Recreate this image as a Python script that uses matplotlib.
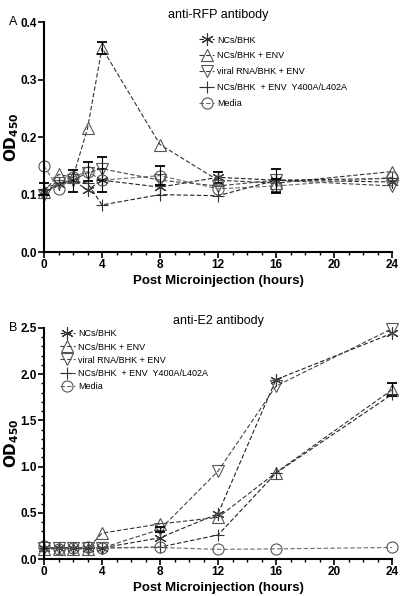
import matplotlib
matplotlib.use("Agg")
import matplotlib.pyplot as plt
from matplotlib.ticker import MultipleLocator

plt.rcParams["font.family"] = ["Liberation Sans", "DejaVu Sans"]

hours = [0, 1, 2, 3, 4, 8, 12, 16, 24]
labels = ["NCs/BHK", "NCs/BHK + ENV", "viral RNA/BHK + ENV",
          "NCs/BHK  + ENV  Y400A/L402A", "Media"]
markers = [(6, 2, 0), "^", "v", "+", "o"]

# panel A - anti-RFP
rfp_ncs = [0.105, 0.118, 0.125, 0.108, 0.125, 0.113, 0.130, 0.125, 0.122]
rfp_ncs_env = [0.105, 0.135, 0.130, 0.215, 0.355, 0.187, 0.125, 0.120, 0.140]
rfp_rna_env = [0.100, 0.120, 0.125, 0.138, 0.145, 0.125, 0.115, 0.125, 0.115]
rfp_mut = [0.110, 0.120, 0.123, 0.120, 0.082, 0.100, 0.098, 0.125, 0.128]
rfp_media = [0.150, 0.110, 0.130, 0.140, 0.125, 0.133, 0.110, 0.115, 0.130]
rfp_err = [
    [0.000, 0.000, 0.000, 0.000, 0.020, 0.000, 0.010, 0.000, 0.000],
    [0.000, 0.000, 0.000, 0.000, 0.010, 0.000, 0.000, 0.000, 0.000],
    [0.000, 0.000, 0.000, 0.000, 0.020, 0.000, 0.000, 0.000, 0.000],
    [0.010, 0.000, 0.019, 0.000, 0.000, 0.000, 0.000, 0.020, 0.000],
    [0.000, 0.000, 0.000, 0.017, 0.000, 0.016, 0.000, 0.012, 0.000],
]

# panel B - anti-E2
e2_ncs = [0.12, 0.12, 0.12, 0.12, 0.12, 0.23, 0.49, 1.94, 2.44]
e2_ncs_env = [0.11, 0.11, 0.11, 0.11, 0.28, 0.38, 0.45, 0.935, 1.83]
e2_rna_env = [0.12, 0.12, 0.12, 0.12, 0.12, 0.32, 0.95, 1.87, 2.49]
e2_mut = [0.12, 0.12, 0.12, 0.12, 0.12, 0.13, 0.26, 0.93, 1.78]
e2_media = [0.14, 0.11, 0.12, 0.13, 0.12, 0.125, 0.105, 0.11, 0.125]
e2_err = [
    [0, 0, 0, 0, 0, 0, 0, 0, 0],
    [0, 0, 0, 0, 0, 0, 0, 0, 0.07],
    [0, 0, 0, 0, 0, 0.03, 0, 0, 0],
    [0, 0, 0, 0, 0, 0, 0, 0, 0],
    [0, 0, 0, 0, 0, 0, 0, 0, 0],
]

line_colors = ["#222222", "#333333", "#444444", "#222222", "#6a6a6a"]
marker_colors = ["#333333", "#555555", "#555555", "#333333", "#555555"]

fig = plt.figure(figsize=(4.0, 5.96), dpi=100)
ax_a = fig.add_axes([0.11, 0.577, 0.87, 0.386])
ax_b = fig.add_axes([0.11, 0.062, 0.87, 0.388])


def draw_panel(ax, series, errs, ylim, ymajor, yminor, title, letter, legend_loc, spacing):
    for vals, err, lab, m, lc, mc in zip(series, errs, labels, markers, line_colors, marker_colors):
        ms = 8 if m == "o" else 9
        ax.plot(hours, vals, color=lc, ls=(0, (4, 2)), lw=0.8,
                marker=m, ms=ms, mfc="none", mec=mc, mew=0.8,
                label=lab, clip_on=False)
        pts = [(h, v, e) for h, v, e in zip(hours, vals, err) if e > 0]
        if pts:
            ax.errorbar([p[0] for p in pts], [p[1] for p in pts], yerr=[p[2] for p in pts],
                        fmt="none", ecolor="black", elinewidth=0.8, capsize=3.5,
                        capthick=1.3, clip_on=False)
    ax.set_xlim(0, 24)
    ax.set_ylim(*ylim)
    ax.xaxis.set_major_locator(MultipleLocator(4))
    ax.xaxis.set_minor_locator(MultipleLocator(1))
    ax.yaxis.set_major_locator(MultipleLocator(ymajor))
    if yminor:
        ax.yaxis.set_minor_locator(MultipleLocator(yminor))
    ax.spines["top"].set_visible(False)
    ax.spines["right"].set_visible(False)
    ax.spines["left"].set_linewidth(1.5)
    ax.spines["bottom"].set_linewidth(1.5)
    ax.tick_params(which="major", width=1.2, length=4, labelsize=8.5, pad=1)
    ax.tick_params(which="minor", width=1.0, length=2.5)
    for t in ax.get_xticklabels() + ax.get_yticklabels():
        t.set_fontweight("bold")
    ax.set_xlabel("Post Microinjection (hours)", fontsize=9.5, fontweight="bold", labelpad=3)
    ax.set_ylabel(r"$\mathbf{OD_{450}}$", fontsize=11)
    ax.yaxis.set_label_coords(-0.066, 0.5)
    ax.set_title(title, fontsize=9, pad=3)
    ax.text(-0.1, 1.0, letter, transform=ax.transAxes, fontsize=9, va="center", ha="left")
    ax.legend(loc=legend_loc, frameon=False, fontsize=6.5,
              handlelength=1.7, handletextpad=0.3, labelspacing=spacing,
              borderaxespad=0.3, borderpad=0.2)


draw_panel(ax_a, [rfp_ncs, rfp_ncs_env, rfp_rna_env, rfp_mut, rfp_media], rfp_err,
           (0, 0.4), 0.1, None, "anti-RFP antibody", "A", (0.44, 0.62), 0.75)
draw_panel(ax_b, [e2_ncs, e2_ncs_env, e2_rna_env, e2_mut, e2_media], e2_err,
           (0, 2.5), 0.5, 0.1, "anti-E2 antibody", "B", (0.04, 0.72), 0.45)

fig.savefig("out.png", dpi=100)
